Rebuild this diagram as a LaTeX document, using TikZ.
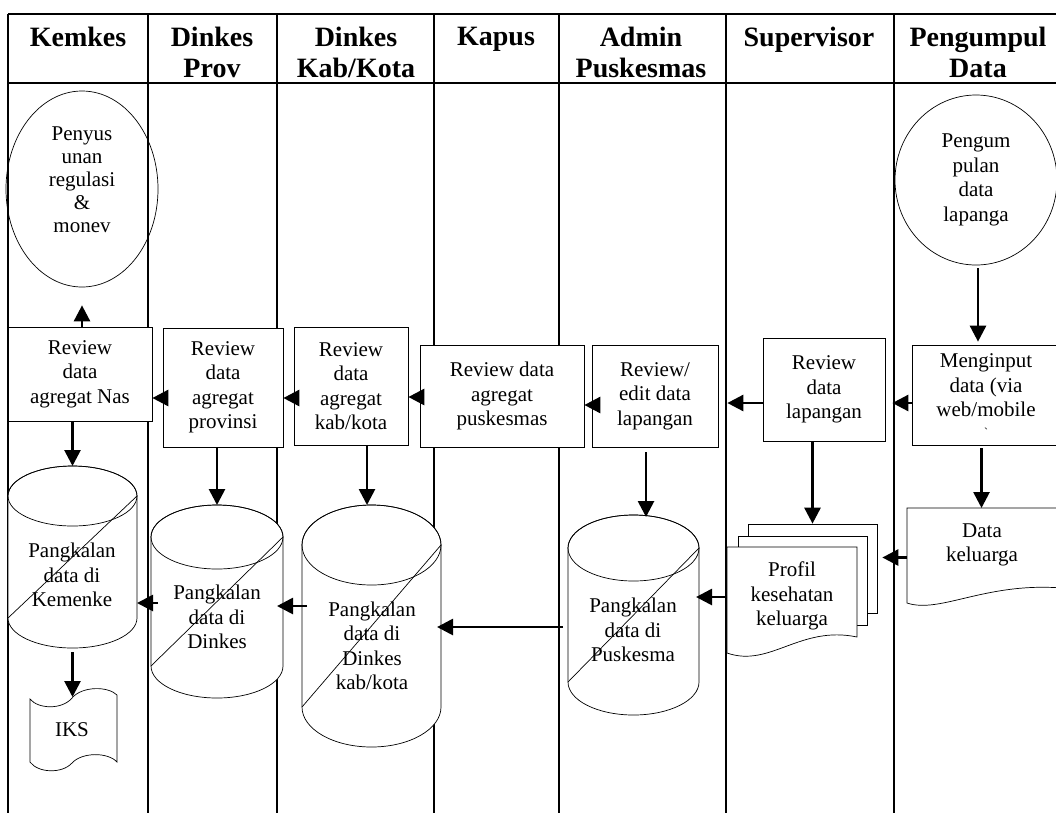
\documentclass[tikz,border=0pt]{standalone}
\usepackage{fontspec}
\setmainfont{Liberation Serif}
\usetikzlibrary{arrows.meta,shapes.geometric,calc}
\newcommand\bodyfont{\fontsize{21}{24.5}\selectfont}
\newcommand\hdfont{\fontsize{28}{31}\selectfont\bfseries}
\tikzset{
 lane/.style={line width=1.4pt},
 shp/.style={draw, line width=0.7pt},
 box/.style={shp, fill=white, rectangle, inner sep=2pt, align=center, font=\bodyfont},
 txt/.style={align=center, font=\bodyfont, inner sep=0pt},
 hdr/.style={align=center, font=\hdfont, inner sep=0pt, anchor=north},
 bb/.style={inner sep=0pt, outer sep=0pt, rectangle},
 arr/.style={line width=2.7pt, -{Triangle[length=16pt,width=16pt]}},
}
% name, x1, x2, ytop, ybot, ry  (y measured downward)
\newcommand\dbcyl[6]{%
 \node[bb, minimum width={#3-#2}, minimum height={#5-#4}] (#1) at ({(#2+#3)/2},{-(#4+#5)/2}) {};
 \filldraw[shp, fill=white] (#2,{-(#4+#6)}) -- (#2,{-(#5-#6)}) arc[start angle=180, end angle=360, x radius={(#3-#2)/2}, y radius=#6] -- (#3,{-(#4+#6)}) arc[start angle=0, end angle=180, x radius={(#3-#2)/2}, y radius=#6] -- cycle;
 \draw[shp] ({(#2+#3)/2},{-(#4+#6)}) ellipse[x radius={(#3-#2)/2}, y radius=#6];
 \draw[shp] (#3,{-(#4+#6)}) -- (#2,{-(#5-#6)});
}
\begin{document}
\begin{tikzpicture}[x=1pt,y=1pt]
\useasboundingbox (0,0) rectangle (1056,-812);
\fill[white] (0,0) rectangle (1056,-812);
% swimlanes
\draw[lane] (8,-14) -- (1062,-14);
\draw[lane] (8,-83) -- (1062,-83);
\foreach \x in {8,148,277,434,559,726,894} \draw[lane] (\x,-14) -- (\x,-816);
% headers
\node[hdr] (h1) at (78,-27) {Kemkes};
\node[hdr] (h2) at (212,-27) {Dinkes\\Prov};
\node[hdr] (h3) at (356,-27) {Dinkes\\Kab/Kota};
\node[hdr] (h4) at (496,-27) {Kapus};
\node[hdr] (h5) at (641,-27) {Admin\\Puskesmas};
\node[hdr] (h6) at (809,-27) {Supervisor};
\node[hdr] (h7) at (978,-27) {Pengumpul\\Data};
% start ellipses
\node[shp, ellipse, minimum width=152, minimum height=196, inner sep=0pt] (penyus) at (82,-189) {};
\node[txt, font={\fontsize{21}{23}\selectfont}] (penyus-t) at (82,-180) {Penyus\\unan\\regulasi\\\&\\monev};
\node[shp, ellipse, minimum width=162, minimum height=170, inner sep=0pt, align=center, font=\bodyfont] (pengum) at (976,-180) {Pengum\\pulan\\data\\lapanga};
% review boxes
\node[box, minimum width=144, minimum height=94] (nas) at (80,-374) {Review\\data\\agregat Nas};
\node[box, minimum width=120, minimum height=119] (prov) at (223,-387.5) {Review\\data\\agregat\\provinsi};
\node[box, minimum width=114, minimum height=118] (kab) at (351,-386) {Review\\data\\agregat\\kab/kota};
\node[box, minimum width=164, minimum height=102] (pusk) at (502,-396) {Review data\\agregat\\puskesmas};
\node[box, minimum width=126, minimum height=102] (edit) at (655,-396) {Review/\\edit data\\lapangan};
\node[box, minimum width=122, minimum height=103] (sup) at (824,-389.5) {Review\\data\\lapangan};
\node[box, minimum width=148, minimum height=100] (input) at (986,-395) {Menginput\\data (via\\web/mobile\\[-5pt]{\fontsize{12}{12}\selectfont\textasciigrave}};
% databases
\dbcyl{kemdb}{8}{137}{466}{648}{30}
\node[txt] (kemdb-t) at (72,-575) {Pangkalan\\data di\\Kemenke};
\dbcyl{dindb}{151}{283}{505}{698}{32}
\node[txt] (dindb-t) at (217,-617) {Pangkalan\\data di\\Dinkes};
\dbcyl{kabdb}{302}{441}{505}{747}{40}
\node[txt] (kabdb-t) at (372,-646) {Pangkalan\\data di\\Dinkes\\kab/kota};
\dbcyl{admdb}{568}{699}{515}{715}{33}
\node[txt] (admdb-t) at (633,-630) {Pangkalan\\data di\\Puskesma};
% IKS (punched tape)
\node[bb, minimum width=87, minimum height=81] (iks) at (73.5,-730.5) {};
\filldraw[shp, fill=white] (30,-699) .. controls (38,-709) and (62,-710) .. (72,-698) .. controls (82,-686) and (108,-686) .. (117,-695) -- (117,-762) .. controls (108,-752) and (82,-752) .. (72,-763) .. controls (62,-774) and (38,-773) .. (30,-762) -- cycle;
\node[txt] (iks-t) at (72,-730) {IKS};
% Profil multi-document
\node[box, minimum width=129, minimum height=89, inner sep=0pt] (profB) at (812.5,-568.5) {};
\node[box, minimum width=129, minimum height=89, inner sep=0pt] (profM) at (802.5,-580.5) {};
\node[bb, minimum width=130, minimum height=111] (profF) at (792,-602.5) {};
\filldraw[shp, fill=white] (727,-547) -- (857,-547) -- (857,-637) .. controls (800,-625) and (770,-668) .. (727,-653) -- cycle;
\node[txt] (profF-t) at (792,-596) {Profil\\kesehatan\\keluarga};
% Data keluarga document
\node[bb, minimum width=153, minimum height=99] (datak) at (983.5,-557.5) {};
\filldraw[shp, fill=white] (907,-508) -- (1062,-508) -- (1062,-588) .. controls (985,-582) and (940,-614) .. (907,-603) -- cycle;
\node[txt] (datak-t) at (982,-545) {Data\\keluarga};
% connectors
\draw[arr] (nas.north -| penyus.south) -- ($(penyus.south)+(0,-18)$);
\draw[arr] ($(prov.west)+(0,-10.5)$) -- ($(prov.west -| nas.east)+(0,-10.5)$);
\draw[arr] ($(kab.west)+(0,-12)$) -- ($(kab.west -| prov.east)+(0,-12)$);
\draw[arr] ($(pusk.west)+(0,-1)$) -- ($(pusk.west -| kab.east)+(0,-1)$);
\draw[arr] ($(edit.west)+(0,-9)$) -- ($(edit.west -| pusk.east)+(0,-9)$);
\draw[arr] ($(sup.west)+(0,-13.5)$) -- ($(sup.west -| edit.east)+(9,-13.5)$);
\draw[arr] ($(input.west)+(0,-8)$) -- ($(input.west -| sup.east)+(7,-8)$);
\draw[arr] ($(pengum.south)+(2,-3)$) -- ($(pengum.south |- input.north)+(2,3)$);
\draw[arr] ($(input.south -| datak.north)+(-2,-3)$) -- ($(datak.north)+(-2,0)$);
\draw[arr] (datak.west) -- ($(datak.west -| profB.east)+(5,0)$);
\draw[arr] (sup.south -| profB.north) -- (profB.north);
\draw[arr] ($(profF.west)+(0,5.5)$) -- ($(profF.west -| admdb.east)+(-3,5.5)$);
\draw[arr] ($(edit.south)+(-9,-5)$) -- ($(edit.south |- admdb.north)+(-9,-2)$);
\draw[arr] ($(admdb.west)+(-5,-12)$) -- ($(admdb.west -| kabdb.east)+(-4,-12)$);
\draw[arr] ($(kab.south)+(16,0)$) -- ($(kab.south |- kabdb.north)+(16,0)$);
\draw[arr] ($(kabdb.west)+(5,20)$) -- ($(kabdb.west -| dindb.east)+(-6,20)$);
\draw[arr] (prov.south -| dindb.north) -- (dindb.north);
\draw[arr] ($(dindb.west)+(7,-1.5)$) -- ($(dindb.west -| kemdb.east)+(0,-1.5)$);
\draw[arr] (nas.south -| kemdb.north) -- (kemdb.north);
\draw[arr] ($(kemdb.south)+(0,-4)$) -- ($(kemdb.south |- iks.north)+(0,-7)$);
\end{tikzpicture}
\end{document}
